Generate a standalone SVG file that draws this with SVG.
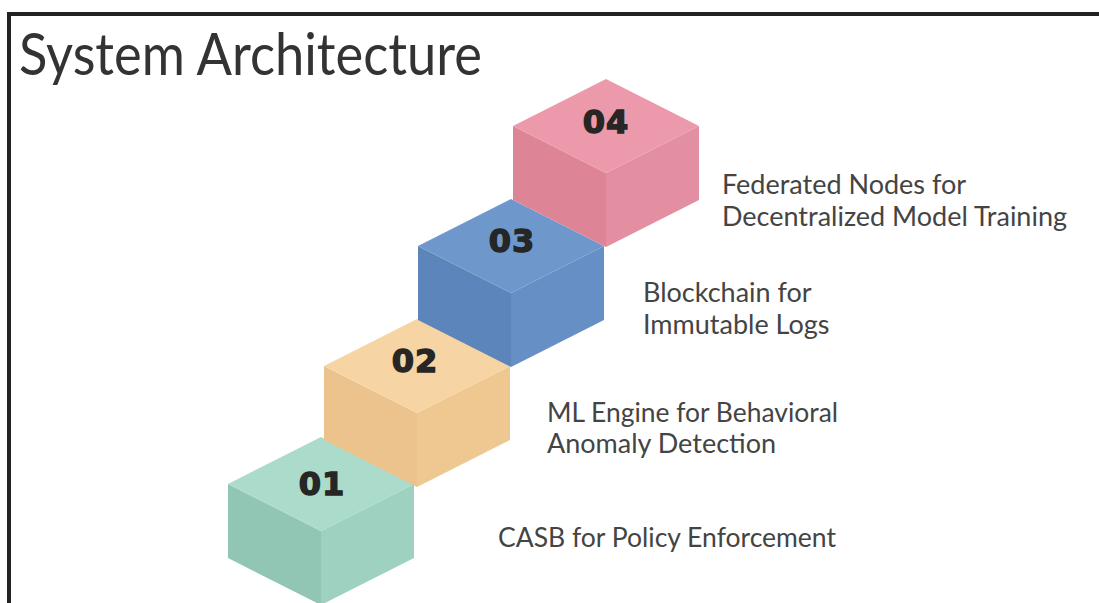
<svg xmlns="http://www.w3.org/2000/svg" width="1099" height="603" viewBox="0 0 1099 603">
<style>
.title{font-family:Lato,"Liberation Sans",sans-serif;font-size:58px;fill:#333;}
.lbl{font-family:Lato,"Liberation Sans",sans-serif;font-size:27px;fill:#444;}
.num{font-family:"DejaVu Sans","Liberation Sans",sans-serif;font-weight:bold;font-size:32px;fill:#262626;stroke:#262626;stroke-width:1.4;text-anchor:middle;letter-spacing:1px;}
</style>
<rect x="0" y="0" width="1099" height="603" fill="#fff"/>
<rect x="7" y="12" width="1092" height="4" fill="#222"/>
<rect x="7" y="12" width="4" height="591" fill="#222"/>
<text class="title" x="19" y="75" textLength="463" lengthAdjust="spacingAndGlyphs">System Architecture</text>

<g id="step01">
<polygon points="228,484 321,531 321,605 228,558" fill="#92c6b4"/>
<polygon points="321,531 414,484 414,558 321,605" fill="#9fd1c0"/>
<polygon points="228,484 321,437 414,484 321,531" fill="#abdccb"/>
<text class="num" x="322" y="495">01</text>
</g>
<g id="step02">
<polygon points="324,366 417,413 417,487 324,440" fill="#ecc38c"/>
<polygon points="417,413 510,366 510,440 417,487" fill="#efc891"/>
<polygon points="324,366 417,319 510,366 417,413" fill="#f6d4a3"/>
<text class="num" x="415" y="372">02</text>
</g>
<g id="step03">
<polygon points="418,246 511,293 511,367 418,320" fill="#5c86bb"/>
<polygon points="511,293 604,246 604,320 511,367" fill="#6690c5"/>
<polygon points="418,246 511,199 604,246 511,293" fill="#6e98cc"/>
<text class="num" x="512" y="252">03</text>
</g>
<g id="step04">
<polygon points="513,126 606,173 606,247 513,200" fill="#dd8497"/>
<polygon points="606,173 699,126 699,200 606,247" fill="#e48ea1"/>
<polygon points="513,126 606,79 699,126 606,173" fill="#ec99ab"/>
<text class="num" x="606" y="133">04</text>
</g>

<g id="labels">
<text class="lbl" x="722" y="194">Federated Nodes for</text>
<text class="lbl" x="722" y="226" textLength="345" lengthAdjust="spacingAndGlyphs">Decentralized Model Training</text>
<text class="lbl" x="643" y="302">Blockchain for</text>
<text class="lbl" x="643" y="334">Immutable Logs</text>
<text class="lbl" x="547" y="422" textLength="291" lengthAdjust="spacingAndGlyphs">ML Engine for Behavioral</text>
<text class="lbl" x="547" y="453">Anomaly Detection</text>
<text class="lbl" x="498" y="547" textLength="338" lengthAdjust="spacingAndGlyphs">CASB for Policy Enforcement</text>
</g>
<g id="connectors"></g>
</svg>
